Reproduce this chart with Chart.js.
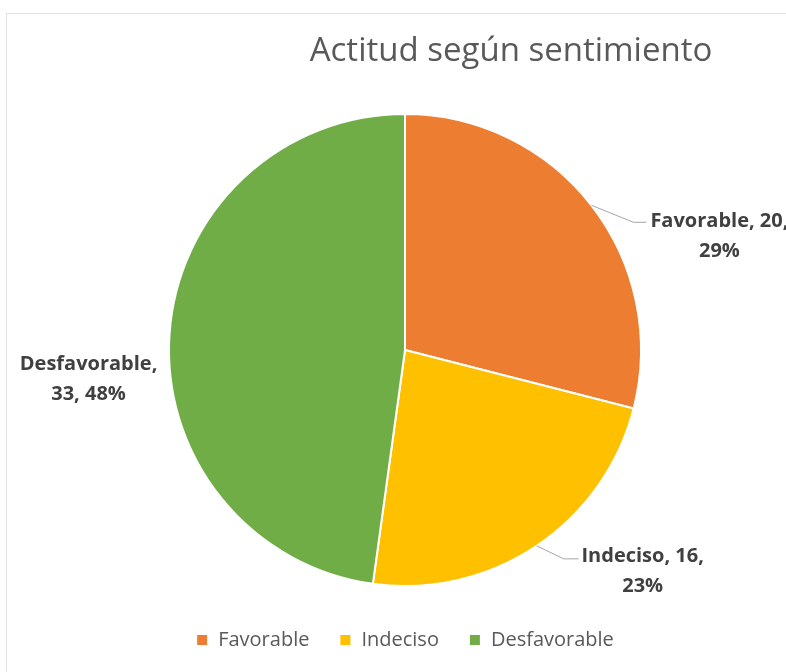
<!DOCTYPE html>
<html>
<head>
<meta charset="utf-8">
<script src="https://cdn.jsdelivr.net/npm/chart.js"></script>
<style>
  html, body { margin: 0; padding: 0; background: #fff; overflow: hidden; }
  #wrap { width: 786px; height: 672px; position: relative; }
</style>
</head>
<body>
<div id="wrap"><canvas id="pieChart" width="786" height="672"></canvas></div>
<script>
// Data
const categories = ['Favorable', 'Indeciso', 'Desfavorable'];
const counts = [20, 16, 33];
const percents = ['29%', '23%', '48%'];
const sliceColors = ['#ED7D31', '#FFC000', '#70AD47'];
const chartTitle = 'Actitud según sentimiento';

// frame + title drawn by hand (Excel style, title is off-centre)
const frameAndTitle = {
  id: 'frameAndTitle',
  beforeDraw(chart) {
    const ctx = chart.ctx;
    ctx.save();
    ctx.fillStyle = '#fff';
    ctx.fillRect(0, 0, chart.width, chart.height);
    ctx.strokeStyle = '#e3e3e3';
    ctx.lineWidth = 1;
    ctx.strokeRect(6.5, 13.5, 900, 800);
    ctx.fillStyle = '#595959';
    ctx.font = '33px "Open Sans"';
    ctx.textAlign = 'center';
    ctx.textBaseline = 'middle';
    ctx.fillText(chartTitle, 511, 52);
    ctx.restore();
  }
};

// data labels with leader lines
const sliceLabels = {
  id: 'sliceLabels',
  afterDatasetsDraw(chart, args, opts) {
    const ctx = chart.ctx;
    const arcs = chart.getDatasetMeta(0).data;
    ctx.save();
    arcs.forEach((arc, i) => {
      const mid = (arc.startAngle + arc.endAngle) / 2;
      const ex = arc.x + Math.cos(mid) * arc.outerRadius;
      const ey = arc.y + Math.sin(mid) * arc.outerRadius;
      const lay = opts.layout[i];
      if (lay.elbow) {
        ctx.strokeStyle = '#a6a6a6';
        ctx.lineWidth = 1;
        ctx.beginPath();
        ctx.moveTo(ex, ey);
        ctx.lineTo(ex + lay.elbow[0], ey + lay.elbow[1]);
        ctx.lineTo(ex + lay.end[0], ey + lay.end[1]);
        ctx.stroke();
      }
      ctx.fillStyle = '#404040';
      ctx.font = 'bold 20px "Open Sans"';
      ctx.textAlign = 'center';
      ctx.textBaseline = 'middle';
      const tx = ex + lay.text[0];
      const ty = ey + lay.text[1];
      const lines = lay.split === 1
        ? [categories[i] + ', ' + counts[i] + ',', percents[i]]
        : [categories[i] + ',', counts[i] + ', ' + percents[i]];
      lines.forEach((t, k) => ctx.fillText(t, tx, ty + k * 30));
    });
    ctx.restore();
  }
};

new Chart(document.getElementById('pieChart'), {
  type: 'pie',
  data: {
    labels: categories,
    datasets: [{
      data: counts,
      backgroundColor: sliceColors,
      borderColor: '#fff',
      borderWidth: 2,
      radius: 236
    }]
  },
  options: {
    responsive: false,
    animation: false,
    events: [],
    layout: { padding: { top: 100, left: 24, right: 0, bottom: 12 } },
    plugins: {
      title: { display: false },
      tooltip: { enabled: false },
      legend: {
        position: 'bottom',
        labels: {
          boxWidth: 12,
          boxHeight: 12,
          padding: 30,
          color: '#595959',
          font: { family: '"Open Sans"', size: 20 }
        }
      },
      sliceLabels: {
        layout: [
          { elbow: [42, 17], end: [55, 17], text: [128, 16], split: 1 },
          { elbow: [27, 13], end: [42, 13], text: [106, 10], split: 1 },
          { elbow: null, text: [-81, 30], split: 2 }
        ]
      }
    }
  },
  plugins: [frameAndTitle, sliceLabels]
});
</script>
</body>
</html>
